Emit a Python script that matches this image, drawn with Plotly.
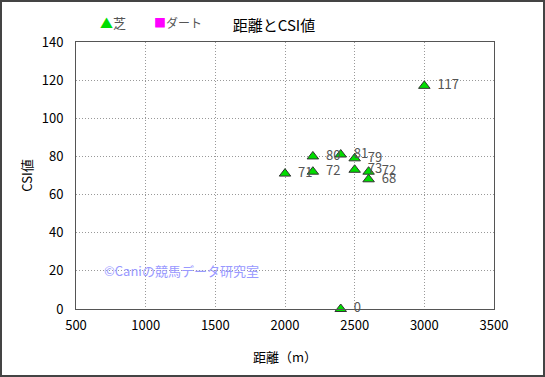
import plotly.graph_objects as go

# Data
turf_distance = [3000, 2400, 2200, 2500, 2200, 2000, 2500, 2600, 2600, 2400]
turf_csi = [117, 81, 80, 79, 72, 71, 73, 72, 68, 0]
dirt_distance = []
dirt_csi = []
x_ticks = [500, 1000, 1500, 2000, 2500, 3000, 3500]
y_ticks = [0, 20, 40, 60, 80, 100, 120, 140]

FONT = "Noto Sans CJK JP, Noto Sans, sans-serif"
TURF_COLOR = "#00dd00"
DIRT_COLOR = "#ff00ff"

fig = go.Figure()
fig.add_trace(go.Scatter(
    x=turf_distance, y=turf_csi, name="芝",
    mode="markers+text",
    text=["  " + str(v) for v in turf_csi],
    textposition="middle right",
    textfont=dict(color="#555555", size=13, family=FONT),
    marker=dict(symbol="triangle-up", size=10, color=TURF_COLOR,
                line=dict(color="#333333", width=1)),
    cliponaxis=False, showlegend=False,
))
fig.add_trace(go.Scatter(
    x=dirt_distance, y=dirt_csi, name="ダート",
    mode="markers",
    marker=dict(symbol="square", size=9, color=DIRT_COLOR),
    showlegend=False,
))

W, H = 545, 377
ml, mr, mt, mb = 76, 51, 42, 68
pw, ph = W - ml - mr, H - mt - mb

def px(xp):
    return (xp - ml) / pw

def py(yp):
    return 1 - (yp - mt) / ph

# legend (as text)
fig.add_annotation(x=px(98), y=py(22), xref="paper", yref="paper",
                   xanchor="left", yanchor="middle", showarrow=False,
                   text=f'<span style="color:{TURF_COLOR}">▲</span>芝',
                   font=dict(size=13, color="#555555", family=FONT))
fig.add_annotation(x=px(152), y=py(22), xref="paper", yref="paper",
                   xanchor="left", yanchor="middle", showarrow=False,
                   text=f'<span style="color:{DIRT_COLOR}">■</span>ダート',
                   font=dict(size=12, color="#555555", family=FONT))

fig.add_annotation(
    x=690, y=20, xref="x", yref="y", xanchor="left", yanchor="middle",
    text="©Caniの競馬データ研究室", showarrow=False,
    font=dict(color="#9999ff", size=13, family=FONT),
)

# outer frame
fig.add_shape(type="rect", xref="paper", yref="paper",
              x0=px(1), x1=px(544), y0=py(376), y1=py(1),
              line=dict(color="#444444", width=2), layer="above")

fig.update_layout(
    width=W, height=H,
    margin=dict(l=ml, r=mr, t=mt, b=mb, autoexpand=False),
    paper_bgcolor="white", plot_bgcolor="white",
    font=dict(family=FONT, size=13, color="#000000"),
    title=dict(text="距離とCSI値", x=274 / W, xanchor="center",
               y=1 - 26 / H, yanchor="middle",
               font=dict(size=15, color="#000000", family=FONT)),
    showlegend=False,
    xaxis=dict(range=[500, 3500], tickvals=x_ticks, automargin=False,
               showgrid=True, gridcolor="#999999", griddash="1px,2px", gridwidth=1,
               showline=True, mirror=True, linecolor="#555555", linewidth=1,
               zeroline=False, ticks="", ticklen=0, ticklabelstandoff=4,
               tickfont=dict(size=13, color="#000000"),
               title=dict(text="距離（m）", standoff=20,
                          font=dict(size=13, color="#000000"))),
    yaxis=dict(range=[0, 140], tickvals=y_ticks, automargin=False,
               showgrid=True, gridcolor="#999999", griddash="1px,2px", gridwidth=1,
               showline=True, mirror=True, linecolor="#555555", linewidth=1,
               zeroline=False, ticks="", ticklen=0, ticklabelstandoff=9,
               tickfont=dict(size=13, color="#000000"),
               title=dict(text="CSI値", standoff=6,
                          font=dict(size=13, color="#000000"))),
)

fig.write_html("out.html", config={"displayModeBar": False},
               post_script="document.body.style.margin='0';")
